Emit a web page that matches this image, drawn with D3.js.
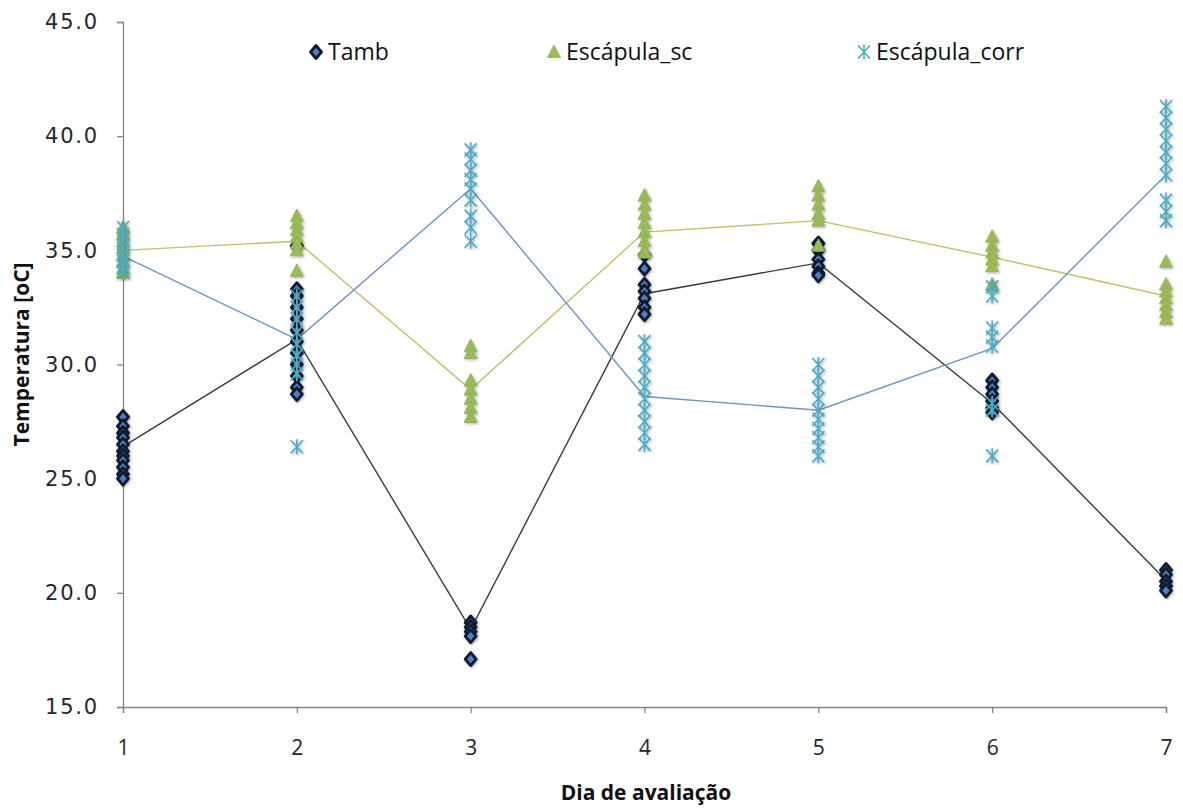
<!DOCTYPE html>
<html>
<head>
<meta charset="utf-8">
<script src="https://cdn.jsdelivr.net/npm/d3@7/dist/d3.min.js"></script>
<style>
  body { margin: 0; background: #fff; }
  svg { display: block; }
</style>
</head>
<body>
<svg id="chart" width="1183" height="809"></svg>
<script>
// ---- Data ----
const days = [1, 2, 3, 4, 5, 6, 7];
const yTicks = [15, 20, 25, 30, 35, 40, 45];
const seriesNames = ["Tamb", "Escápula_sc", "Escápula_corr"];

// individual readings per day
const tambPoints = [
  [27.7, 27.3, 27.0, 26.8, 26.5, 26.2, 26.0, 25.8, 25.5, 25.2, 25.0],
  [35.2, 33.3, 33.0, 32.5, 32.0, 31.5, 31.0, 30.5, 30.0, 29.5, 29.0, 28.7],
  [18.7, 18.5, 18.3, 18.1, 17.1],
  [34.8, 34.2, 33.5, 33.2, 32.9, 32.5, 32.2],
  [35.3, 35.0, 34.6, 34.3, 34.0, 33.9],
  [29.3, 29.0, 28.7, 28.4, 28.1, 27.9],
  [21.0, 20.8, 20.5, 20.3, 20.1]
];
const scPoints = [
  [36.0, 35.7, 35.4, 35.1, 34.8, 34.5, 34.2, 34.0],
  [36.5, 36.2, 35.9, 35.6, 35.3, 35.0, 34.1],
  [30.8, 30.5, 29.3, 28.9, 28.5, 28.1, 27.7],
  [37.4, 37.0, 36.6, 36.2, 35.8, 35.4, 35.0, 34.9],
  [37.8, 37.4, 37.0, 36.6, 36.3, 35.2],
  [35.6, 35.2, 34.9, 34.6, 34.3, 33.5],
  [34.5, 33.5, 33.2, 32.9, 32.6, 32.3, 32.0]
];
const corrPoints = [
  [36.0, 35.7, 35.4, 35.1, 34.8, 34.5, 34.3, 34.1],
  [33.0, 32.5, 32.0, 31.4, 30.9, 30.4, 30.0, 29.6, 26.4],
  [39.4, 39.0, 38.5, 38.1, 37.7, 37.2, 36.5, 36.0, 35.4],
  [31.0, 30.5, 30.0, 29.5, 29.0, 28.5, 28.0, 27.5, 27.0, 26.5],
  [30.0, 29.5, 29.0, 28.5, 28.0, 27.6, 27.2, 26.8, 26.4, 26.0],
  [33.4, 33.0, 31.6, 31.2, 30.8, 28.3, 28.0, 26.0],
  [41.3, 40.8, 40.3, 39.8, 39.3, 38.8, 38.3, 37.2, 36.7, 36.3]
];
// mean lines
const tambMean = [26.4, 31.1, 18.4, 33.1, 34.45, 28.3, 20.55];
const scMean   = [35.0, 35.4, 28.9, 35.8, 36.3, 34.7, 33.0];
const corrMean = [34.75, 31.1, 37.7, 28.6, 28.0, 30.7, 38.3];

// ---- Layout ----
const svg = d3.select("#chart");
const x = d3.scaleLinear().domain([1, 7]).range([123, 1166]);
const y = d3.scaleLinear().domain([15, 45]).range([707, 22]);

const axisColor = "#868686";
const fontTick = "'DejaVu Sans', Verdana, sans-serif";
const fontText = "'Open Sans', 'Liberation Sans', sans-serif";

// soft glow/shadow for markers
const defs = svg.append("defs");
const f = defs.append("filter").attr("id", "glow")
  .attr("x", "-60%").attr("y", "-60%").attr("width", "220%").attr("height", "220%");
f.append("feGaussianBlur").attr("in", "SourceAlpha").attr("stdDeviation", 1.4).attr("result", "b");
f.append("feOffset").attr("in", "b").attr("dx", 0.8).attr("dy", 1).attr("result", "o");
f.append("feComponentTransfer").attr("in", "o").attr("result", "s")
  .append("feFuncA").attr("type", "linear").attr("slope", 0.35);
const fm = f.append("feMerge");
fm.append("feMergeNode").attr("in", "s");
fm.append("feMergeNode").attr("in", "SourceGraphic");

// Y axis
const yAxis = svg.append("g")
  .attr("transform", `translate(${x(1)},0)`)
  .call(d3.axisLeft(y).tickValues(yTicks).tickFormat(d3.format(".1f")).tickSize(6).tickPadding(18));
yAxis.select(".domain").attr("stroke", axisColor).attr("stroke-width", 1.3);
yAxis.selectAll(".tick line").attr("stroke", axisColor).attr("stroke-width", 1.3);
yAxis.selectAll(".tick text")
  .attr("fill", "#262626")
  .style("font-family", fontTick)
  .style("font-size", "21px")
  .style("letter-spacing", "1.8px");

// X axis
const xAxis = svg.append("g")
  .attr("transform", `translate(0,${y(15)})`)
  .call(d3.axisBottom(x).tickValues(days).tickFormat(d3.format("d")).tickSize(6).tickPadding(27));
xAxis.select(".domain").attr("stroke", axisColor).attr("stroke-width", 1.3);
xAxis.selectAll(".tick line").attr("stroke", axisColor).attr("stroke-width", 1.3);
xAxis.selectAll(".tick text")
  .attr("fill", "#262626")
  .style("font-family", fontText)
  .style("font-size", "21px");

// Axis titles
svg.append("text")
  .attr("transform", `translate(29,${(y(15) + y(45)) / 2 - 10}) rotate(-90)`)
  .attr("text-anchor", "middle")
  .style("font-family", fontText)
  .style("font-weight", "bold")
  .style("font-size", "21px")
  .attr("fill", "#111")
  .text("Temperatura [oC]");

svg.append("text")
  .attr("x", 646)
  .attr("y", 800)
  .attr("text-anchor", "middle")
  .style("font-family", fontText)
  .style("font-weight", "bold")
  .style("font-size", "21px")
  .attr("fill", "#111")
  .text("Dia de avaliação");

// ---- Mean lines ----
const line = d3.line().x((d, i) => x(days[i])).y(d => y(d));
svg.append("path").datum(tambMean).attr("d", line)
  .attr("fill", "none").attr("stroke", "#3a3a3a").attr("stroke-width", 1.4);
svg.append("path").datum(scMean).attr("d", line)
  .attr("fill", "none").attr("stroke", "#b3c66c").attr("stroke-width", 1.4);
svg.append("path").datum(corrMean).attr("d", line)
  .attr("fill", "none").attr("stroke", "#6f95c6").attr("stroke-width", 1.4);

// ---- Markers ----
const diamondPath = "M0,-6.5L5.5,0L0,6.5L-5.5,0Z";
const trianglePath = "M0,-7L6.5,5.5L-6.5,5.5Z";
const asteriskPath = "M0,-7.5L0,7.5M-6,-6.5L6,6.5M-6,6.5L6,-6.5";

function flatten(points) {
  const out = [];
  points.forEach((arr, i) => arr.forEach(v => out.push({ day: days[i], v })));
  return out;
}

function drawDiamond(g) {
  g.append("path").attr("d", diamondPath)
    .attr("fill", "#4f7fc2").attr("stroke", "#0f1a2e").attr("stroke-width", 2.8)
    .attr("stroke-linejoin", "round");
}
function drawTriangle(g) {
  g.append("path").attr("d", trianglePath)
    .attr("fill", "#9bbb59").attr("stroke", "#8fb04e").attr("stroke-width", 0.8)
    .attr("stroke-linejoin", "round");
}
function drawAsterisk(g) {
  g.append("path").attr("d", asteriskPath)
    .attr("fill", "none").attr("stroke", "#4bacc6").attr("stroke-width", 1.6);
}

svg.append("g").attr("filter", "url(#glow)").selectAll("g").data(flatten(tambPoints)).join("g")
  .attr("transform", d => `translate(${x(d.day)},${y(d.v)})`)
  .each(function () { drawDiamond(d3.select(this)); });
svg.append("g").attr("filter", "url(#glow)").selectAll("g").data(flatten(scPoints)).join("g")
  .attr("transform", d => `translate(${x(d.day)},${y(d.v)})`)
  .each(function () { drawTriangle(d3.select(this)); });
svg.append("g").attr("filter", "url(#glow)").selectAll("g").data(flatten(corrPoints)).join("g")
  .attr("transform", d => `translate(${x(d.day)},${y(d.v)})`)
  .each(function () { drawAsterisk(d3.select(this)); });

// ---- Legend ----
const legendItems = [
  { name: seriesNames[0], mx: 316, draw: drawDiamond },
  { name: seriesNames[1], mx: 554, draw: drawTriangle },
  { name: seriesNames[2], mx: 864, draw: drawAsterisk }
];
const legend = svg.append("g");
legendItems.forEach(it => {
  const g = legend.append("g").attr("transform", `translate(${it.mx},52)`);
  it.draw(g);
  g.append("text").attr("x", 12).attr("y", 8)
    .style("font-family", fontText)
    .style("font-size", "23px")
    .attr("fill", "#111")
    .text(it.name);
});
</script>
</body>
</html>
